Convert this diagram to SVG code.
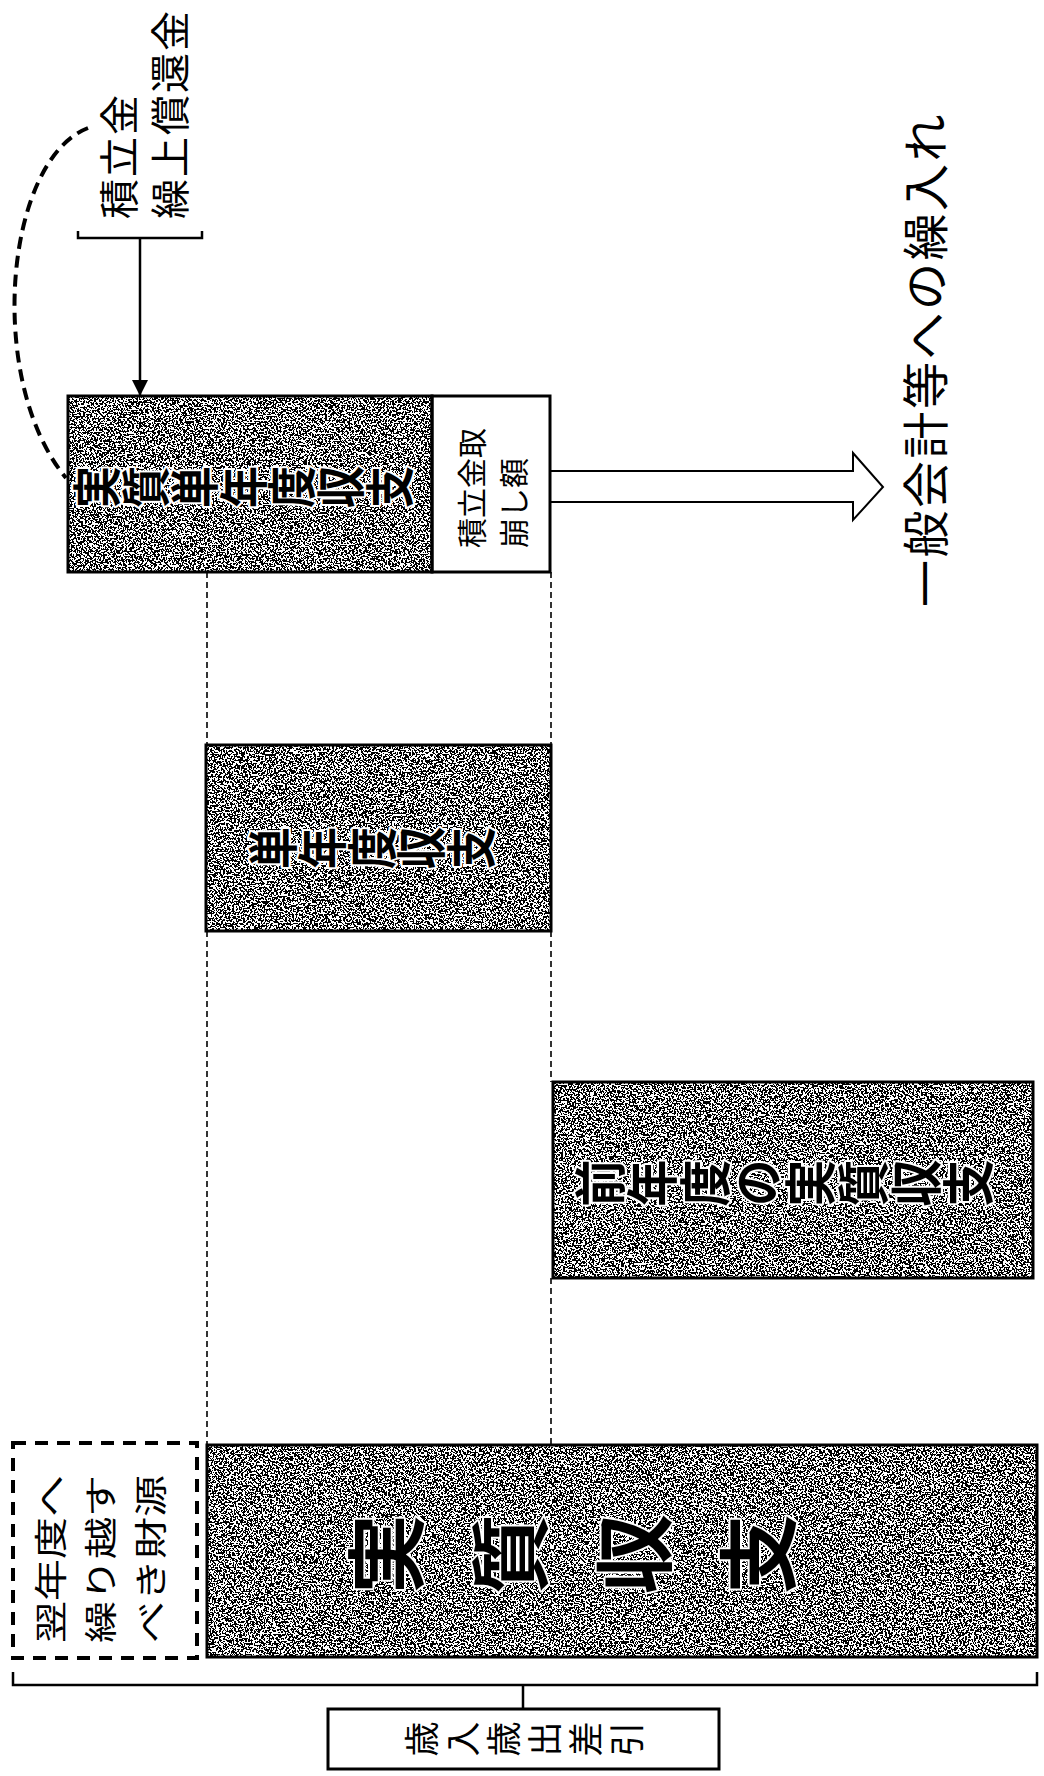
<svg xmlns="http://www.w3.org/2000/svg" width="1044" height="1776" viewBox="0 0 1044 1776">
<defs>
<style>
 text { font-family: "Noto Sans CJK JP", "Noto Sans", sans-serif; fill: #000; }
 .v { writing-mode: vertical-rl; text-anchor: middle; }
 .h { dominant-baseline: central; }
 .bar { font-weight: 700; stroke: #fff; stroke-width: 4; paint-order: stroke; stroke-linejoin: round; }
 .box { fill: none; stroke: #000; stroke-width: 3; }
 .guide { stroke: #000; stroke-width: 1.6; stroke-dasharray: 6 4; fill: none; }
 .line { stroke: #000; stroke-width: 2.5; fill: none; }
</style>
<filter id="grain" x="0" y="0" width="1" height="1" color-interpolation-filters="sRGB">
 <feTurbulence type="fractalNoise" baseFrequency="0.55" numOctaves="2" seed="7" result="n"/>
 <feColorMatrix in="n" type="matrix" values="0 0 0 0 0  0 0 0 0 0  0 0 0 0 0  1 0 0 0 0" result="m"/>
 <feComponentTransfer in="m" result="d"><feFuncA type="discrete" tableValues="0 1"/></feComponentTransfer>
 <feFlood flood-color="#fff" result="w"/>
 <feComposite in="d" in2="w" operator="over"/>
</filter>
<marker id="ah" markerWidth="16" markerHeight="16" refX="16" refY="8" orient="auto" markerUnits="userSpaceOnUse"><path d="M0,0 L16,8 L0,16 Z" fill="#000"/></marker>
</defs>
<rect width="1044" height="1776" fill="#fff"/>

<g id="connectors">
 <path class="line" stroke-width="3" d="M78,231 L78,238 L202,238 L202,231"/>
 <line class="line" x1="140" y1="238" x2="140" y2="396" marker-end="url(#ah)"/>
 <path d="M88,128 C5,160 -15,380 66,478" fill="none" stroke="#000" stroke-width="4" stroke-dasharray="12 7"/>
 <path d="M551,471 L853,471 L853,453 L883,487 L853,520 L853,502 L551,502" fill="#fff" stroke="#000" stroke-width="2"/>
 <path class="guide" d="M207,572 V745 M207,931 V1445 M551,572 V745 M551,931 V1082 M551,1278 V1445"/>
 <path class="line" d="M13,1672 L13,1685 L1037,1685 L1037,1672 M523,1685 L523,1709"/>
</g>

<g id="node-tsumitatekin-kuriage">
 <text class="h" font-size="40" letter-spacing="2" transform="translate(117,219) rotate(-90)"><tspan x="0" y="0">積立金</tspan><tspan x="0" y="51">繰上償還金</tspan></text>
</g>

<g id="node-jisshitsu-tannendo">
 <rect x="68" y="396" width="364" height="176" filter="url(#grain)"/>
 <rect class="box" x="68" y="396" width="364" height="176"/>
 <text class="v bar" font-size="42" transform="translate(243,487) rotate(-90) scale(1,1.16)">実質単年度収支</text>
</g>

<g id="node-torikuzushi">
 <rect class="box" x="432" y="396" width="118" height="176" fill="#fff"/>
 <text class="h" font-size="30" transform="translate(470,548) rotate(-90)"><tspan x="0" y="0">積立金取</tspan><tspan x="0" y="42">崩し額</tspan></text>
</g>

<g id="node-ippankaikei">
 <text class="h" font-size="47" letter-spacing="2.5" transform="translate(922,607) rotate(-90)">一般会計等への繰入れ</text>
</g>

<g id="node-tannendo">
 <rect x="206" y="745" width="345" height="186" filter="url(#grain)"/>
 <rect class="box" x="206" y="745" width="345" height="186"/>
 <text class="v bar" font-size="42" transform="translate(372,848) rotate(-90) scale(1,1.18)">単年度収支</text>
</g>

<g id="node-zennendo">
 <rect x="553" y="1082" width="480" height="196" filter="url(#grain)"/>
 <rect class="box" x="553" y="1082" width="480" height="196"/>
 <text class="v bar" font-size="47" transform="translate(784,1183) rotate(-90) scale(1,1.12)">前年度の実質収支</text>
</g>

<g id="node-yokunendo">
 <rect x="13" y="1443" width="184" height="215" fill="none" stroke="#000" stroke-width="4" stroke-dasharray="13 9"/>
 <text class="h" font-size="42" transform="translate(48,1643) rotate(-90) scale(1,0.78)"><tspan x="0" y="0">翌年度へ</tspan><tspan x="0" y="64">繰り越す</tspan><tspan x="0" y="128">べき財源</tspan></text>
</g>

<g id="node-jisshitsu">
 <rect x="207" y="1445" width="830" height="212" filter="url(#grain)"/>
 <rect class="box" x="207" y="1445" width="830" height="212"/>
 <text class="v bar" font-size="80" letter-spacing="44" transform="translate(594,1554) rotate(-90)">実質収支</text>
</g>

<g id="node-sashihiki">
 <rect class="box" x="328" y="1709" width="391" height="60" fill="#fff" stroke-width="2.5"/>
 <text class="v" font-size="35" letter-spacing="6" transform="translate(527,1739) rotate(-90)">歳入歳出差引</text>
</g>
</svg>
